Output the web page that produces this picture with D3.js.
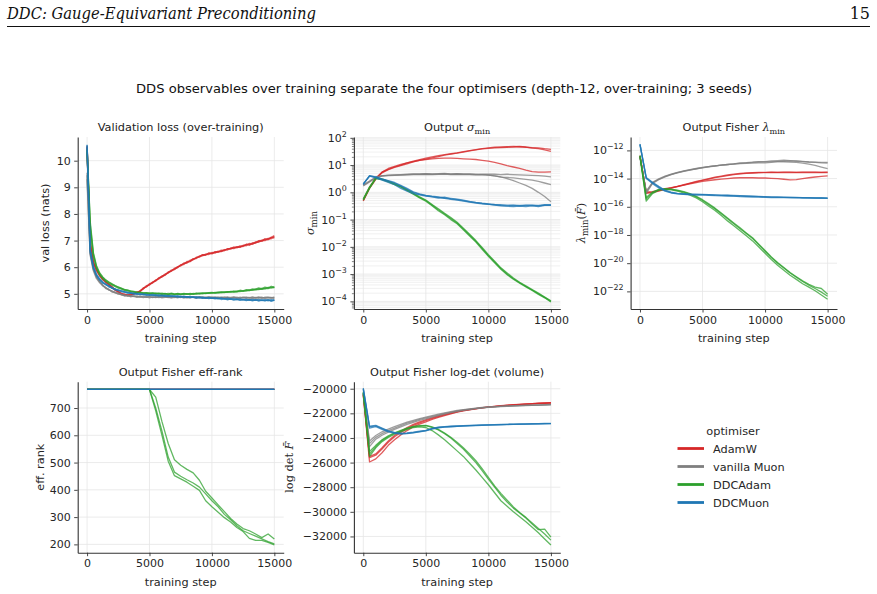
<!DOCTYPE html>
<html><head><meta charset="utf-8">
<script src="https://cdn.jsdelivr.net/npm/d3@7"></script>
<style>
body{margin:0;background:#fff}
svg{display:block}
text{font-family:"DejaVu Sans",sans-serif;fill:#262626}
</style>
</head><body>
<svg id="chart" width="877" height="594"></svg>
<script>
// ---------------- DATA ----------------
const optimisers = ["AdamW", "vanilla Muon", "DDCAdam", "DDCMuon"];
const optColors = ["#d62728", "#7f7f7f", "#2ca02c", "#1f77b4"];
const xTickValues = [0, 5000, 10000, 15000];
const stepsLoss = d3.range(0, 15001, 250);   // evaluation steps for val loss
const stepsDDS = d3.range(0, 15001, 500);    // evaluation steps for DDS observables
const stepsFlat = [0, 5000, 10000, 15000];

// Validation loss (nats), 3 seeds each
const valLossAdamW = [
 [10.52,6.92,6.18,5.91,5.72,5.53,5.46,5.33,5.27,5.13,5.10,4.98,4.99,4.93,4.98,5.02,5.03,5.12,5.18,5.30,5.33,5.44,5.48,5.60,5.63,5.74,5.78,5.89,5.91,6.02,6.05,6.14,6.16,6.26,6.28,6.37,6.38,6.46,6.45,6.52,6.50,6.57,6.56,6.64,6.62,6.69,6.68,6.74,6.73,6.80,6.78,6.85,6.82,6.92,6.90,6.98,6.97,7.05,7.03,7.12,7.10],
 [10.48,6.85,6.22,5.87,5.68,5.57,5.42,5.37,5.22,5.17,5.05,5.02,4.95,4.97,4.95,4.99,5.07,5.09,5.22,5.26,5.38,5.41,5.52,5.56,5.67,5.70,5.82,5.85,5.96,5.98,6.09,6.10,6.21,6.22,6.32,6.33,6.42,6.43,6.49,6.48,6.55,6.53,6.60,6.60,6.66,6.65,6.72,6.70,6.77,6.76,6.82,6.81,6.89,6.87,6.95,6.94,7.01,7.00,7.08,7.07,7.15],
 [10.55,6.95,6.15,5.93,5.70,5.55,5.44,5.35,5.25,5.15,5.08,5.00,4.97,4.96,4.96,5.00,5.05,5.10,5.20,5.27,5.35,5.43,5.50,5.58,5.65,5.72,5.80,5.86,5.93,6.00,6.07,6.15,6.18,6.21,6.30,6.35,6.40,6.47,6.47,6.53,6.52,6.58,6.58,6.59,6.64,6.69,6.70,6.75,6.75,6.75,6.80,6.86,6.86,6.87,6.93,6.99,7.00,7.06,7.06,7.12,7.18]
];
const valLossMuon = [
 [9.45,6.52,5.92,5.63,5.47,5.30,5.24,5.14,5.11,5.04,5.03,4.97,4.96,4.93,4.94,4.90,4.92,4.88,4.91,4.87,4.90,4.86,4.89,4.88,4.87,4.90,4.86,4.89,4.87,4.88,4.86,4.90,4.85,4.88,4.87,4.86,4.89,4.85,4.87,4.86,4.88,4.84,4.87,4.85,4.88,4.84,4.86,4.88,4.83,4.87,4.85,4.86,4.84,4.88,4.85,4.86,4.83,4.87,4.86,4.84,4.87],
 [9.30,6.45,5.88,5.58,5.42,5.33,5.20,5.17,5.07,5.05,4.99,4.98,4.92,4.95,4.89,4.92,4.87,4.90,4.86,4.89,4.85,4.88,4.86,4.89,4.85,4.87,4.88,4.84,4.88,4.85,4.89,4.84,4.87,4.86,4.88,4.83,4.87,4.86,4.84,4.88,4.85,4.86,4.83,4.87,4.84,4.86,4.82,4.86,4.85,4.83,4.87,4.84,4.86,4.82,4.86,4.84,4.87,4.83,4.85,4.86,4.82],
 [9.55,6.60,5.95,5.65,5.45,5.32,5.22,5.15,5.09,5.06,5.00,4.96,4.94,4.92,4.91,4.91,4.89,4.90,4.88,4.88,4.89,4.87,4.88,4.86,4.89,4.88,4.87,4.88,4.86,4.89,4.87,4.87,4.88,4.85,4.88,4.87,4.86,4.88,4.86,4.87,4.85,4.88,4.86,4.86,4.85,4.88,4.85,4.86,4.87,4.84,4.86,4.87,4.85,4.86,4.84,4.88,4.85,4.85,4.87,4.85,4.86]
];
const valLossDDCAdam = [
 [10.40,7.60,6.50,6.02,5.76,5.62,5.50,5.43,5.36,5.30,5.26,5.20,5.16,5.13,5.11,5.08,5.06,5.05,5.04,5.02,5.03,5.01,5.03,5.00,5.02,4.99,5.01,5.00,4.98,5.01,4.99,5.00,4.98,5.01,4.99,5.02,5.00,5.03,5.01,5.04,5.05,5.03,5.06,5.05,5.07,5.06,5.09,5.07,5.10,5.09,5.12,5.11,5.14,5.13,5.17,5.16,5.20,5.19,5.24,5.22,5.26],
 [10.35,7.45,6.42,5.97,5.72,5.58,5.47,5.39,5.33,5.27,5.22,5.18,5.13,5.11,5.08,5.07,5.04,5.04,5.01,5.03,5.00,5.02,4.99,5.01,4.98,5.00,4.97,5.00,4.97,4.99,4.98,4.98,5.00,4.97,5.01,4.99,5.02,5.00,5.03,5.02,5.04,5.04,5.05,5.06,5.05,5.08,5.07,5.09,5.08,5.11,5.10,5.13,5.12,5.15,5.15,5.18,5.17,5.21,5.20,5.25,5.23],
 [10.45,7.70,6.55,6.05,5.79,5.63,5.52,5.44,5.37,5.31,5.24,5.21,5.15,5.14,5.09,5.09,5.05,5.06,5.02,5.04,5.01,5.03,5.00,5.02,4.99,5.01,4.98,5.02,4.99,5.00,4.97,5.01,4.99,5.00,4.98,5.01,5.01,5.02,5.02,5.03,5.03,5.05,5.04,5.07,5.06,5.08,5.08,5.10,5.09,5.13,5.11,5.15,5.14,5.18,5.17,5.22,5.19,5.25,5.22,5.28,5.25]
];
const valLossDDCMuon = [
 [10.58,6.62,6.02,5.71,5.55,5.43,5.34,5.29,5.21,5.18,5.13,5.12,5.08,5.06,5.02,5.03,4.98,5.00,4.97,4.98,4.95,4.98,4.94,4.96,4.93,4.95,4.92,4.94,4.90,4.93,4.89,4.91,4.88,4.90,4.86,4.89,4.85,4.87,4.84,4.86,4.83,4.85,4.82,4.84,4.81,4.83,4.80,4.82,4.79,4.81,4.78,4.80,4.77,4.79,4.76,4.79,4.75,4.78,4.74,4.78,4.76],
 [10.52,6.55,5.97,5.68,5.52,5.40,5.37,5.26,5.23,5.15,5.15,5.08,5.07,5.03,5.04,4.99,5.01,4.96,4.99,4.95,4.97,4.94,4.96,4.92,4.95,4.91,4.93,4.90,4.92,4.88,4.91,4.87,4.89,4.86,4.88,4.84,4.87,4.83,4.85,4.82,4.84,4.81,4.83,4.79,4.82,4.78,4.81,4.77,4.80,4.76,4.79,4.75,4.78,4.74,4.78,4.73,4.77,4.74,4.78,4.72,4.77],
 [10.60,6.70,6.05,5.74,5.57,5.45,5.35,5.30,5.22,5.17,5.12,5.10,5.07,5.04,5.02,5.00,4.99,4.98,4.97,4.96,4.96,4.95,4.94,4.94,4.93,4.92,4.92,4.91,4.91,4.90,4.89,4.89,4.88,4.87,4.87,4.86,4.86,4.85,4.84,4.84,4.83,4.83,4.82,4.82,4.81,4.80,4.80,4.79,4.79,4.78,4.78,4.77,4.78,4.76,4.77,4.76,4.76,4.75,4.77,4.75,4.76]
];

// Output sigma_min
const sigmaAdamW = [
 [0.50,1.5,3.2,5.5,7.0,8.5,10,12,14,16,18,20,22,24,26,28,31,34,37,40,43,45,46,47,48,47,45,44,43,40,38],
 [0.48,1.4,3.0,5.2,6.8,8.2,9.6,11,13,15,16.5,18.5,20.5,23,25,27.5,30,33,36,39,41,43,44,45,46,48,46,42,40,36,32],
 [0.52,1.5,3.3,5.5,7.5,9.0,10.5,12,13.5,15,16,17,17.5,18,18,17.5,17,16.5,16,15,14,12.5,11,9.5,8.5,7.5,6.5,5.8,5.5,5.5,5.6]
];
const sigmaMuon = [
 [1.8,2.5,3.5,4.0,4.2,4.3,4.4,4.5,4.6,4.6,4.7,4.6,4.7,4.8,4.6,4.7,4.6,4.6,4.5,4.6,4.6,4.6,4.5,4.6,4.5,4.4,4.3,4.2,4.1,3.9,3.7],
 [1.9,2.6,3.6,4.1,4.3,4.4,4.5,4.6,4.7,4.7,4.8,4.7,4.8,5.0,4.7,4.8,4.7,4.7,4.6,4.5,4.3,4.0,3.6,3.5,3.4,3.2,3.0,2.8,2.5,2.2,1.9],
 [1.7,2.4,3.4,3.9,4.1,4.2,4.3,4.4,4.5,4.5,4.6,4.5,4.6,4.7,4.5,4.6,4.5,4.5,4.4,4.5,4.3,4.0,3.7,3.2,2.7,2.2,1.8,1.4,1.0,0.7,0.45]
];
const sigmaDDCAdam = [
 [0.55,1.5,3.3,3.0,2.5,2.0,1.6,1.2,0.9,0.65,0.50,0.34,0.23,0.16,0.11,0.075,0.045,0.027,0.016,0.0088,0.0048,0.0028,0.0016,0.001,0.00068,0.00048,0.00035,0.00026,0.00019,0.00014,0.0001],
 [0.52,1.4,3.2,2.9,2.4,1.9,1.55,1.15,0.85,0.62,0.47,0.32,0.21,0.15,0.10,0.07,0.042,0.025,0.015,0.0082,0.0045,0.0026,0.0015,0.00095,0.00065,0.00046,0.00034,0.00025,0.00018,0.000135,0.000095],
 [0.58,1.6,3.4,3.1,2.6,2.1,1.65,1.25,0.95,0.68,0.52,0.36,0.25,0.17,0.12,0.08,0.048,0.029,0.017,0.0095,0.0052,0.003,0.0017,0.0011,0.00072,0.0005,0.00037,0.00027,0.0002,0.000145,0.000105]
];
const sigmaDDCMuon = [
 [2.0,4.0,3.6,3.0,2.6,2.2,1.7,1.3,1.0,0.85,0.75,0.70,0.65,0.60,0.55,0.52,0.48,0.44,0.40,0.38,0.36,0.35,0.33,0.32,0.33,0.32,0.33,0.33,0.32,0.34,0.34],
 [2.1,3.9,3.4,2.8,2.3,1.9,1.4,1.1,0.9,0.80,0.72,0.68,0.62,0.66,0.58,0.54,0.50,0.45,0.42,0.39,0.37,0.34,0.32,0.31,0.30,0.31,0.30,0.32,0.30,0.33,0.33],
 [1.9,4.1,3.7,3.1,2.7,2.3,1.8,1.4,1.05,0.88,0.78,0.72,0.68,0.62,0.60,0.56,0.52,0.47,0.43,0.40,0.38,0.36,0.35,0.34,0.34,0.33,0.34,0.34,0.33,0.35,0.35]
];

// Output Fisher lambda_min
const lambdaAdamW = [
 [4.0e-13,1.0e-15,1.1e-15,1.4e-15,1.8e-15,2.2e-15,2.8e-15,3.7e-15,4.8e-15,6.3e-15,7.9e-15,1.0e-14,1.26e-14,1.5e-14,1.8e-14,2.1e-14,2.3e-14,2.5e-14,2.6e-14,2.75e-14,2.8e-14,2.85e-14,2.8e-14,2.9e-14,2.85e-14,2.8e-14,2.85e-14,2.9e-14,2.85e-14,2.8e-14,2.85e-14],
 [4.2e-13,9.0e-16,1.0e-15,1.3e-15,1.7e-15,2.1e-15,2.7e-15,3.5e-15,4.5e-15,5.9e-15,7.4e-15,9.3e-15,1.15e-14,1.4e-14,1.65e-14,1.9e-14,2.15e-14,2.35e-14,2.5e-14,2.6e-14,2.65e-14,2.7e-14,2.7e-14,2.75e-14,2.7e-14,2.7e-14,2.75e-14,2.7e-14,2.75e-14,2.7e-14,2.7e-14],
 [3.8e-13,1.1e-15,1.2e-15,1.5e-15,1.9e-15,2.3e-15,2.8e-15,3.4e-15,4.2e-15,5.2e-15,6.3e-15,7.3e-15,8.3e-15,9.3e-15,1.0e-14,1.1e-14,1.15e-14,1.15e-14,1.15e-14,1.1e-14,1.1e-14,1.05e-14,1.0e-14,9.0e-15,8.0e-15,8.5e-15,1.0e-14,1.15e-14,1.3e-14,1.45e-14,1.55e-14]
];
const lambdaMuon = [
 [3.5e-13,1.1e-15,5.0e-15,8.9e-15,1.4e-14,2.0e-14,2.6e-14,3.4e-14,4.2e-14,5.0e-14,6.0e-14,7.1e-14,7.9e-14,9.1e-14,1.0e-13,1.1e-13,1.3e-13,1.35e-13,1.45e-13,1.6e-13,1.6e-13,1.8e-13,1.9e-13,2.0e-13,1.9e-13,1.8e-13,1.65e-13,1.5e-13,1.4e-13,1.3e-13,1.25e-13],
 [3.2e-13,1.3e-15,5.5e-15,9.5e-15,1.5e-14,2.1e-14,2.8e-14,3.5e-14,4.3e-14,5.2e-14,6.2e-14,7.0e-14,8.0e-14,9.0e-14,1.0e-13,1.05e-13,1.15e-13,1.2e-13,1.25e-13,1.3e-13,1.3e-13,1.4e-13,1.6e-13,1.7e-13,1.8e-13,1.7e-13,1.6e-13,1.5e-13,1.45e-13,1.4e-13,1.4e-13],
 [3.8e-13,9.0e-16,4.5e-15,8.5e-15,1.3e-14,1.9e-14,2.5e-14,3.3e-14,4.0e-14,4.9e-14,5.8e-14,6.9e-14,7.8e-14,8.9e-14,9.8e-14,1.1e-13,1.2e-13,1.3e-13,1.4e-13,1.5e-13,1.55e-13,1.6e-13,1.6e-13,1.55e-13,1.5e-13,1.4e-13,1.25e-13,1.05e-13,8.5e-14,6.5e-14,5.0e-14]
];
const lambdaDDCAdam = [
 [4.0e-13,3.5e-16,1.0e-15,1.6e-15,1.8e-15,1.7e-15,1.4e-15,1.1e-15,7.9e-16,5.0e-16,2.8e-16,1.4e-16,7.1e-17,3.2e-17,1.4e-17,6.3e-18,2.8e-18,1.26e-18,5.6e-19,2.0e-19,7.1e-20,2.5e-20,1.0e-20,4.5e-21,2.0e-21,1.0e-21,5.0e-22,2.8e-22,1.6e-22,8.9e-23,4.5e-23],
 [3.6e-13,2.5e-16,8.5e-16,1.5e-15,1.7e-15,1.6e-15,1.3e-15,9.5e-16,6.8e-16,4.2e-16,2.3e-16,1.1e-16,5.5e-17,2.4e-17,1.0e-17,4.5e-18,2.0e-18,8.9e-19,3.8e-19,1.4e-19,5.0e-20,1.8e-20,7.1e-21,3.2e-21,1.4e-21,7.1e-22,3.5e-22,2.0e-22,1.1e-22,5.6e-23,2.8e-23],
 [4.4e-13,4.5e-16,1.1e-15,1.7e-15,1.9e-15,1.8e-15,1.5e-15,1.2e-15,8.5e-16,5.5e-16,3.2e-16,1.6e-16,8.0e-17,3.6e-17,1.6e-17,7.1e-18,3.2e-18,1.4e-18,6.3e-19,2.2e-19,8.0e-20,2.8e-20,1.1e-20,5.0e-21,2.2e-21,1.1e-21,5.6e-22,3.2e-22,2.0e-22,1.6e-22,6.3e-23]
];
const lambdaDDCMuon = [
 [2.7e-12,1.1e-14,5.0e-15,2.5e-15,1.4e-15,1.0e-15,8.5e-16,7.9e-16,7.6e-16,7.4e-16,7.2e-16,7.1e-16,6.8e-16,6.5e-16,6.3e-16,6.0e-16,5.8e-16,5.6e-16,5.4e-16,5.2e-16,5.0e-16,4.9e-16,4.8e-16,4.7e-16,4.6e-16,4.5e-16,4.4e-16,4.3e-16,4.2e-16,4.1e-16,4.0e-16],
 [2.6e-12,1.0e-14,4.4e-15,2.2e-15,1.3e-15,9.5e-16,8.2e-16,7.6e-16,7.0e-16,6.8e-16,6.9e-16,6.6e-16,6.2e-16,6.0e-16,5.8e-16,5.7e-16,5.2e-16,5.0e-16,4.8e-16,4.9e-16,4.7e-16,4.5e-16,4.6e-16,4.4e-16,4.3e-16,4.4e-16,4.2e-16,4.3e-16,4.1e-16,4.2e-16,4.1e-16],
 [2.8e-12,1.2e-14,5.5e-15,2.8e-15,1.5e-15,1.1e-15,9.0e-16,8.4e-16,8.0e-16,7.8e-16,7.5e-16,7.3e-16,7.1e-16,6.8e-16,6.6e-16,6.3e-16,6.1e-16,5.8e-16,5.6e-16,5.4e-16,5.2e-16,5.1e-16,4.9e-16,4.8e-16,4.7e-16,4.6e-16,4.5e-16,4.5e-16,4.3e-16,4.2e-16,4.1e-16]
];

// Output Fisher effective rank
const rankAdamW = [[768,768,768,768],[768,768,768,768],[768,768,768,768]];
const rankMuon = [[768,768,768,768],[768,768,768,768],[768,768,768,768]];
const rankDDCMuon = [[768,768,768,768],[768,768,768,768],[768,768,768,768]];
const rankDDCAdam = [
 [768,768,768,768,768,768,768,768,768,768,768,740,650,570,510,490,475,462,435,395,370,345,320,295,275,258,250,238,225,238,220],
 [768,768,768,768,768,768,768,768,768,768,768,700,615,520,465,450,437,425,410,385,360,338,310,290,268,250,240,230,220,210,202],
 [768,768,768,768,768,768,768,768,768,768,768,690,600,505,452,440,428,413,398,360,338,318,298,282,262,247,222,215,215,207,198]
];

// Output Fisher log-det
const logdetAdamW = [
 [-20500,-25950,-25700,-25200,-24600,-24150,-23750,-23400,-23100,-22880,-22700,-22500,-22330,-22180,-22050,-21900,-21800,-21710,-21630,-21560,-21500,-21450,-21400,-21360,-21320,-21290,-21260,-21230,-21200,-21180,-21160],
 [-20450,-25600,-25400,-24900,-24350,-23900,-23550,-23250,-22980,-22780,-22600,-22430,-22270,-22130,-22010,-21880,-21780,-21700,-21620,-21550,-21490,-21440,-21390,-21350,-21310,-21280,-21250,-21220,-21190,-21170,-21150],
 [-20550,-25500,-25300,-24800,-24250,-23800,-23450,-23150,-22900,-22700,-22520,-22360,-22210,-22080,-21960,-21850,-21760,-21680,-21610,-21540,-21480,-21430,-21380,-21340,-21300,-21270,-21240,-21210,-21180,-21160,-21140]
];
const logdetMuon = [
 [-20400,-24450,-23950,-23650,-23400,-23200,-23000,-22800,-22650,-22500,-22370,-22240,-22120,-22000,-21900,-21800,-21720,-21650,-21590,-21540,-21500,-21470,-21440,-21420,-21400,-21380,-21360,-21350,-21330,-21320,-21300],
 [-20350,-24250,-23800,-23500,-23280,-23080,-22900,-22720,-22570,-22430,-22300,-22180,-22070,-21960,-21860,-21770,-21700,-21630,-21570,-21520,-21480,-21450,-21420,-21400,-21380,-21360,-21340,-21330,-21310,-21300,-21280],
 [-20450,-24700,-24100,-23780,-23520,-23300,-23100,-22900,-22740,-22580,-22440,-22300,-22180,-22060,-21950,-21850,-21760,-21690,-21620,-21570,-21520,-21490,-21460,-21440,-21420,-21400,-21380,-21360,-21350,-21330,-21320]
];
const logdetDDCAdam = [
 [-20300,-25500,-24800,-24300,-23950,-23700,-23500,-23300,-23150,-23100,-23150,-23400,-23750,-24150,-24600,-25050,-25500,-26050,-26600,-27200,-27800,-28450,-29100,-29550,-30000,-30400,-30800,-31250,-31700,-32200,-32700],
 [-20350,-25300,-24700,-24200,-23880,-23620,-23420,-23250,-23100,-23030,-23000,-23150,-23350,-23650,-24000,-24450,-24900,-25450,-26000,-26650,-27350,-28000,-28650,-29200,-29700,-30100,-30500,-31000,-31450,-31400,-32050],
 [-20250,-25100,-24600,-24150,-23820,-23580,-23380,-23200,-23060,-23000,-22980,-23100,-23300,-23600,-23950,-24350,-24800,-25300,-25850,-26500,-27200,-27900,-28500,-29050,-29600,-30050,-30450,-30900,-31350,-31800,-32300]
];
const logdetDDCMuon = [
 [-20000,-23100,-23020,-23240,-23450,-23580,-23640,-23620,-23560,-23480,-23400,-23250,-23150,-23100,-23070,-23050,-23020,-23000,-22980,-22960,-22940,-22930,-22920,-22900,-22890,-22880,-22870,-22860,-22850,-22840,-22830],
 [-20050,-23200,-23080,-23300,-23500,-23620,-23680,-23650,-23580,-23500,-23420,-23280,-23170,-23120,-23090,-23060,-23040,-23010,-22990,-22970,-22950,-22940,-22930,-22910,-22900,-22890,-22880,-22870,-22860,-22850,-22840],
 [-19950,-23050,-22980,-23200,-23420,-23550,-23600,-23590,-23530,-23450,-23380,-23230,-23130,-23080,-23050,-23030,-23000,-22980,-22960,-22940,-22930,-22910,-22900,-22890,-22870,-22860,-22850,-22840,-22830,-22820,-22810]
];

// Tick labels
const lossTicks = [5, 6, 7, 8, 9, 10];
const sigmaTickExps = [2, 1, 0, -1, -2, -3, -4];
const lambdaTickExps = [-12, -14, -16, -18, -20, -22];
const rankTicks = [200, 300, 400, 500, 600, 700];
const logdetTicks = [-20000, -22000, -24000, -26000, -28000, -30000, -32000];

// ---------------- DRAWING ----------------
const svg = d3.select("#chart");
const MINUS = "\u2212";
const TICK_FS = 11, LABEL_FS = 11.3, TITLE_FS = 11.3;

// page header
svg.append("text").attr("x", 7).attr("y", 19)
  .style("font-family", '"DejaVu Serif", serif').style("font-style", "italic")
  .attr("font-size", 16).attr("textLength", 309).attr("lengthAdjust", "spacingAndGlyphs")
  .style("fill", "#111").text("DDC: Gauge-Equivariant Preconditioning");
svg.append("text").attr("x", 870).attr("y", 19).attr("text-anchor", "end")
  .style("font-family", '"DejaVu Serif", serif').attr("font-size", 16).style("fill", "#111").text("15");
svg.append("line").attr("x1", 7).attr("x2", 870).attr("y1", 26.5).attr("y2", 26.5)
  .attr("stroke", "#111").attr("stroke-width", 1);

// suptitle
svg.append("text").attr("x", 444).attr("y", 93).attr("text-anchor", "middle")
  .attr("font-size", 12.3).attr("textLength", 616).attr("lengthAdjust", "spacingAndGlyphs")
  .style("fill", "#111")
  .text("DDS observables over training separate the four optimisers (depth-12, over-training; 3 seeds)");

function mathSub(sel, sym, sub, fs) {
  sel.append("tspan").style("font-family", '"DejaVu Serif", serif').style("font-style", "italic").text(sym);
  sel.append("tspan").style("font-family", '"DejaVu Serif", serif').attr("font-size", fs * 0.72).attr("dy", fs * 0.25).text(sub);
}

const panels = [
  { left: 77.7, top: 137, w: 206, h: 172, log: false, yDomain: [4.43, 10.89],
    yTicks: lossTicks, fmt: d => String(d), lw: 1.5, op: 0.7, steps: stepsLoss,
    data: [valLossAdamW, valLossMuon, valLossDDCAdam, valLossDDCMuon],
    title: s => s.text("Validation loss (over-training)"),
    ylabel: s => s.text("val loss (nats)"), ylx: 49 },
  { left: 353.9, top: 137, w: 206.4, h: 172, log: true, yDomain: [Math.pow(10, -4.28), Math.pow(10, 2.03)],
    yTicks: sigmaTickExps.map(e => Math.pow(10, e)), exps: sigmaTickExps, minor: true, lw: 1.3, op: 0.75, steps: stepsDDS,
    data: [sigmaAdamW, sigmaMuon, sigmaDDCAdam, sigmaDDCMuon],
    title: s => { s.append("tspan").text("Output "); mathSub(s, "σ", "min", TITLE_FS); },
    ylabel: s => mathSub(s, "σ", "min", 12), ylx: 314 },
  { left: 630.6, top: 137, w: 206.4, h: 172, log: true, yDomain: [Math.pow(10, -23.25), Math.pow(10, -11.05)],
    yTicks: lambdaTickExps.map(e => Math.pow(10, e)), exps: lambdaTickExps, lw: 1.3, op: 0.75, steps: stepsDDS,
    data: [lambdaAdamW, lambdaMuon, lambdaDDCAdam, lambdaDDCMuon],
    title: s => { s.append("tspan").text("Output Fisher "); mathSub(s, "λ", "min", TITLE_FS); },
    ylabel: s => { mathSub(s, "λ", "min", 12);
      s.append("tspan").style("font-family", '"DejaVu Serif", serif').attr("dy", -3).text("(");
      s.append("tspan").style("font-family", '"DejaVu Serif", serif').style("font-style", "italic").text("F\u0304");
      s.append("tspan").style("font-family", '"DejaVu Serif", serif').text(")"); }, ylx: 585 },
  { left: 77.7, top: 381.7, w: 206, h: 171, log: false, yDomain: [169.5, 796.5],
    yTicks: rankTicks, fmt: d => String(d), lw: 1.3, op: 0.75, steps: stepsDDS,
    data: [rankAdamW, rankMuon, rankDDCAdam, rankDDCMuon], flat: [true, true, false, true],
    title: s => s.text("Output Fisher eff-rank"),
    ylabel: s => s.text("eff. rank"), ylx: 43.5, xlabel: true },
  { left: 353.9, top: 381.7, w: 206.4, h: 171, log: false, yDomain: [-33320, -19430],
    yTicks: logdetTicks, fmt: d => MINUS + String(Math.abs(d)), lw: 1.3, op: 0.75, steps: stepsDDS,
    data: [logdetAdamW, logdetMuon, logdetDDCAdam, logdetDDCMuon],
    title: s => s.text("Output Fisher log-det (volume)"),
    ylabel: s => { s.append("tspan").style("font-family", '"DejaVu Serif", serif').text("log det ");
      s.append("tspan").style("font-family", '"DejaVu Serif", serif').style("font-style", "italic").text("F\u0304"); }, ylx: 293 }
];

panels.forEach(p => {
  const g = svg.append("g");
  const x = d3.scaleLinear().domain([-750, 15750]).range([p.left, p.left + p.w]);
  const y = (p.log ? d3.scaleLog() : d3.scaleLinear()).domain(p.yDomain).range([p.top + p.h, p.top]);
  const grid = g.append("g");
  let minorVals = [];
  if (p.minor) {
    for (let e = -5; e <= 2; e++) for (let k = 2; k <= 9; k++) {
      const v = k * Math.pow(10, e);
      if (v >= p.yDomain[0] && v <= p.yDomain[1]) minorVals.push(v);
    }
    grid.selectAll("line.mn").data(minorVals).join("line")
      .attr("x1", p.left).attr("x2", p.left + p.w).attr("y1", d => y(d)).attr("y2", d => y(d))
      .attr("stroke", "#ececec").attr("stroke-width", 0.8);
  }
  grid.selectAll("line.gx").data(xTickValues).join("line")
    .attr("x1", d => x(d)).attr("x2", d => x(d)).attr("y1", p.top).attr("y2", p.top + p.h)
    .attr("stroke", "#e6e6e6").attr("stroke-width", 0.8);
  grid.selectAll("line.gy").data(p.yTicks).join("line")
    .attr("x1", p.left).attr("x2", p.left + p.w).attr("y1", d => y(d)).attr("y2", d => y(d))
    .attr("stroke", "#e6e6e6").attr("stroke-width", 0.8);

  // series
  p.data.forEach((seeds, oi) => {
    const steps = (p.flat && p.flat[oi]) ? stepsFlat : p.steps;
    const line = d3.line().x((d, i) => x(steps[i])).y(d => y(d));
    seeds.forEach(vals => {
      g.append("path").attr("d", line(vals)).attr("fill", "none")
        .attr("stroke", optColors[oi]).attr("stroke-width", p.lw).attr("stroke-opacity", p.op)
        .attr("stroke-linejoin", "round");
    });
  });

  // axes
  const xa = g.append("g").attr("transform", `translate(0,${p.top + p.h})`)
    .call(d3.axisBottom(x).tickValues(xTickValues).tickFormat(d3.format("d")).tickSize(3.5).tickPadding(3.5).tickSizeOuter(0));
  const ya = g.append("g").attr("transform", `translate(${p.left},0)`)
    .call(d3.axisLeft(y).tickValues(p.yTicks).tickFormat(p.log ? () => "" : p.fmt).tickSize(3.5).tickPadding(3.5).tickSizeOuter(0));
  if (p.minor) {
    g.append("g").attr("transform", `translate(${p.left},0)`)
      .call(d3.axisLeft(y).tickValues(minorVals).tickFormat(() => "").tickSize(2).tickSizeOuter(0))
      .call(a => a.select(".domain").remove())
      .selectAll("line").attr("stroke", "#333").attr("stroke-width", 0.6);
  }
  [xa, ya].forEach(a => {
    a.attr("font-family", null).attr("font-size", null);
    a.select(".domain").attr("stroke", "#333").attr("stroke-width", 1.1);
    a.selectAll(".tick line").attr("stroke", "#333").attr("stroke-width", 0.9);
    a.selectAll(".tick text").attr("font-size", TICK_FS).style("fill", "#262626");
  });
  if (p.log) {
    ya.selectAll(".tick text").each(function (d, i) {
      const t = d3.select(this);
      t.text(null);
      t.append("tspan").text("10");
      const e = p.exps[i];
      t.append("tspan").attr("font-size", TICK_FS * 0.72).attr("dy", -5).text(e < 0 ? MINUS + Math.abs(e) : String(e));
    });
  }

  // labels
  const cx = p.left + p.w / 2;
  const tt = g.append("text").attr("x", cx).attr("y", p.top - 6).attr("text-anchor", "middle")
    .attr("font-size", TITLE_FS).style("fill", "#222");
  p.title(tt);
  g.append("text").attr("x", cx).attr("y", p.top + p.h + 33).attr("text-anchor", "middle")
    .attr("font-size", LABEL_FS).text("training step");
  const yl = g.append("text").attr("transform", `translate(${p.ylx},${p.top + p.h / 2}) rotate(-90)`)
    .attr("text-anchor", "middle").attr("font-size", LABEL_FS);
  p.ylabel(yl);
});

// legend
const lg = svg.append("g");
lg.append("text").attr("x", 733).attr("y", 435).attr("text-anchor", "middle").attr("font-size", 11.3).text("optimiser");
optimisers.forEach((name, i) => {
  const yy = 448.5 + i * 18;
  lg.append("line").attr("x1", 677.5).attr("x2", 704).attr("y1", yy).attr("y2", yy)
    .attr("stroke", optColors[i]).attr("stroke-width", 2.8);
  lg.append("text").attr("x", 713).attr("y", yy + 4).attr("font-size", 11.3).text(name);
});
</script>
</body></html>
